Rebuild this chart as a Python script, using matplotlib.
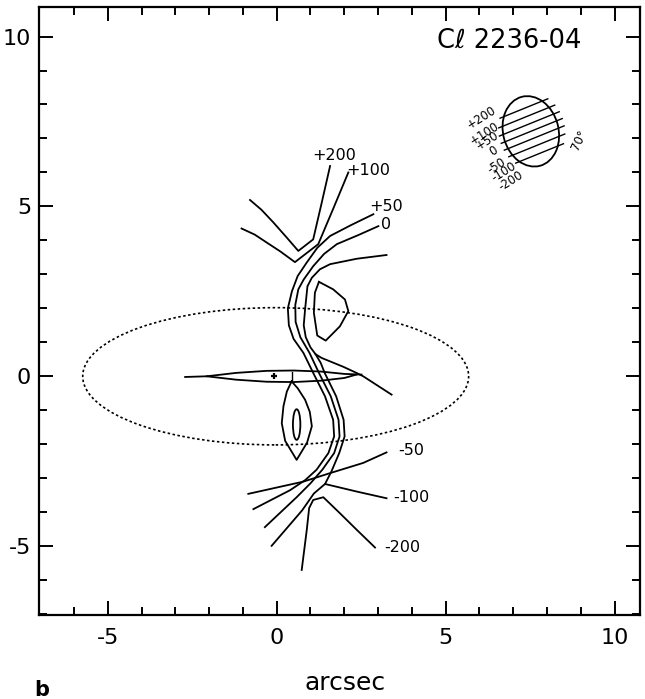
import numpy as np
import matplotlib
matplotlib.use("Agg")
import matplotlib.pyplot as plt
from matplotlib.patches import Ellipse

plt.rcParams['axes.unicode_minus'] = False
plt.rcParams['font.family'] = 'DejaVu Sans'

# traced contours (arcsec)
p200_x = [-0.79, -0.45, -0.10, 0.30, 0.64, 1.08, 1.33, 1.58]
p200_y = [5.19, 4.90, 4.53, 4.08, 3.69, 4.03, 5.10, 6.19]
p100_x = [-1.04, -0.65, -0.30, 0.10, 0.54, 1.23, 1.68, 2.12]
p100_y = [4.35, 4.17, 3.94, 3.68, 3.36, 3.89, 4.95, 6.00]
p50_x = [2.86, 2.20, 1.58, 1.20, 0.89, 0.62, 0.45, 0.33, 0.36, 0.50, 0.79, 1.08,
         1.43, 1.67, 1.70, 1.53, 1.18, 0.85, 0.40, -0.69]
p50_y = [4.77, 4.45, 4.13, 3.78, 3.35, 2.95, 2.50, 2.00, 1.50, 1.10, 0.69, 0.10,
         -0.59, -1.28, -1.77, -2.26, -2.75, -3.05, -3.35, -3.91]
z0_x = [3.01, 2.40, 1.78, 1.40, 1.08, 0.80, 0.64, 0.55, 0.56, 0.70, 0.97, 1.25,
        1.60, 1.83, 1.86, 1.70, 1.35, 1.00, 0.60, -0.35]
z0_y = [4.42, 4.15, 3.89, 3.60, 3.24, 2.85, 2.56, 2.10, 1.60, 1.15, 0.69, 0.10,
        -0.59, -1.28, -1.77, -2.26, -2.75, -3.15, -3.55, -4.44]
u_x = [3.25, 2.37, 1.58, 1.28, 1.04, 0.91, 0.84, 0.80, 0.86, 1.00, 1.15, 1.33,
       1.97, 2.36, 2.56, 3.40]
u_y = [3.57, 3.46, 3.30, 3.15, 2.90, 2.65, 1.97, 1.50, 1.15, 0.85, 0.65, 0.54,
       0.28, 0.10, 0.00, -0.54]
l3_x = [1.15, 1.30, 1.42, 1.76, 1.98, 2.01, 1.85, 1.62, 1.43]
l3_y = [0.65, 0.40, 0.10, -0.59, -1.28, -1.77, -2.26, -2.80, -3.17]
m50_x = [3.25, 2.56, 1.58, 0.79, -0.84]
m50_y = [-2.24, -2.55, -2.85, -3.10, -3.46]
m100_x = [3.25, 2.40, 1.43, 1.10, 0.75, -0.15]
m100_y = [-3.59, -3.40, -3.17, -3.45, -3.95, -4.99]
m200_x = [2.91, 2.37, 1.87, 1.38, 1.08, 0.96, 0.89, 0.74]
m200_y = [-5.04, -4.52, -4.03, -3.56, -3.64, -3.88, -4.52, -5.70]

dome_x = [1.25, 1.67, 2.02, 2.12, 1.87, 1.45, 1.20, 1.10, 1.13, 1.25]
dome_y = [2.78, 2.56, 2.26, 1.92, 1.47, 1.05, 1.20, 1.87, 2.46, 2.78]
drop_x = [0.44, 0.30, 0.20, 0.15, 0.25, 0.59, 0.90, 1.04, 0.98, 0.84, 0.62, 0.44]
drop_y = [-0.15, -0.45, -0.88, -1.38, -1.90, -2.46, -1.95, -1.47, -1.05, -0.69, -0.35, -0.15]
lens_top_x = [-2.71, -2.07, -1.20, -0.30, 0.50, 1.30, 2.00, 2.51]
lens_top_y = [-0.02, 0.00, 0.10, 0.16, 0.17, 0.14, 0.07, 0.05]
lens_bot_x = [-2.07, -1.20, -0.30, 0.50, 1.30, 2.00, 2.36]
lens_bot_y = [0.00, -0.10, -0.16, -0.17, -0.13, -0.05, 0.05]

labels = ['+200', '+100', '+50', '0', '-50', '-100', '-200']
label_x = [1.71, 2.70, 3.25, 3.25, 3.97, 4.00, 3.72]
label_y = [6.49, 6.05, 4.99, 4.47, -2.18, -3.56, -5.04]

# inset: tilted beam ellipse with its own contour lines
inset_offsets = [0.70, 0.45, 0.22, 0.0, -0.22, -0.45, -0.70]
inset_lab_x = [6.06, 6.16, 6.24, 6.43, 6.50, 6.72, 6.92]
inset_lab_y = [7.62, 7.16, 6.93, 6.64, 6.20, 6.00, 5.76]
inset_angle = 22

fig = plt.figure(figsize=(6.45, 6.99), dpi=100)
ax = fig.add_axes([0.0612, 0.1195, 0.9310, 0.8705])
ax.set_xlim(-7.02, 10.75)
ax.set_ylim(-7.04, 10.87)

lw = 1.3
for xs, ys in [(p200_x, p200_y), (p100_x, p100_y), (p50_x, p50_y), (z0_x, z0_y),
               (u_x, u_y), (l3_x, l3_y), (m50_x, m50_y), (m100_x, m100_y),
               (m200_x, m200_y), (dome_x, dome_y), (drop_x, drop_y),
               (lens_top_x, lens_top_y), (lens_bot_x, lens_bot_y)]:
    ax.plot(xs, ys, color='black', lw=lw, solid_joinstyle='round')

ax.add_patch(Ellipse((0.59, -1.42), 0.22, 0.9, fill=False, lw=lw, color='black'))
ax.add_patch(Ellipse((-0.03, 0.0), 11.42, 4.04, fill=False, lw=1.2,
                     color='black', linestyle=(0, (1.5, 1.5))))
ax.plot([-0.08], [0.02], marker='+', ms=5, mew=1.6, color='black')
ax.plot([0.44, 0.44], [-0.12, 0.14], color='black', lw=1.0)

for t, x, y in zip(labels, label_x, label_y):
    ax.text(x, y, t, ha='center', va='center', fontsize=11.5)

# inset
cx, cy = 7.52, 7.21
a_, b_, tilt = 0.82, 1.05, 15
ax.add_patch(Ellipse((cx, cy), 2 * a_, 2 * b_, angle=tilt, fill=False, lw=lw, color='black'))
th = np.deg2rad(inset_angle)
ux, uy = np.cos(th), np.sin(th)
nx, ny = -np.sin(th), np.cos(th)
phi = np.deg2rad(tilt)
for d in inset_offsets:
    px, py = cx + d * nx, cy + d * ny
    # where the line meets the ellipse, in the ellipse's own frame
    qx, qy = px - cx, py - cy
    rx = qx * np.cos(phi) + qy * np.sin(phi)
    ry = -qx * np.sin(phi) + qy * np.cos(phi)
    vx = ux * np.cos(phi) + uy * np.sin(phi)
    vy = -ux * np.sin(phi) + uy * np.cos(phi)
    A = vx**2 / a_**2 + vy**2 / b_**2
    B = 2 * (rx * vx / a_**2 + ry * vy / b_**2)
    C = rx**2 / a_**2 + ry**2 / b_**2 - 1
    disc = max(B**2 - 4 * A * C, 0)
    s1 = (-B - np.sqrt(disc)) / (2 * A)
    s2 = (-B + np.sqrt(disc)) / (2 * A)
    ax.plot([px + (s1 - 0.12) * ux, px + (s2 + 0.18) * ux],
            [py + (s1 - 0.12) * uy, py + (s2 + 0.18) * uy], color='black', lw=1.0)
for t, x, y in zip(labels, inset_lab_x, inset_lab_y):
    ax.text(x, y, t, rotation=32, ha='center', va='center', fontsize=8.5)
ax.text(8.95, 6.95, '70°', rotation=65, ha='center', va='center', fontsize=8.5)

ax.text(4.73, 9.88, 'Cℓ 2236-04', ha='left', va='center', fontsize=18.5)

for s in ax.spines.values():
    s.set_linewidth(1.6)
ax.set_xticks([-5, 0, 5, 10])
ax.set_yticks([-5, 0, 5, 10])
ax.set_xticks(np.arange(-6, 11, 1), minor=True)
ax.set_yticks(np.arange(-7, 11, 1), minor=True)
ax.tick_params(which='both', direction='in', top=True, right=True, width=1.4, labelsize=16)
ax.tick_params(which='major', length=10)
ax.tick_params(which='minor', length=5.5)
ax.tick_params(axis='x', pad=9)
ax.tick_params(axis='y', pad=6)

fig.text(0.535, 0.013, 'arcsec', ha='center', va='baseline', fontsize=18)
fig.text(0.065, 0.004, 'b', ha='center', va='baseline', fontsize=15, fontweight='bold')

fig.savefig('out.png', dpi=100)
